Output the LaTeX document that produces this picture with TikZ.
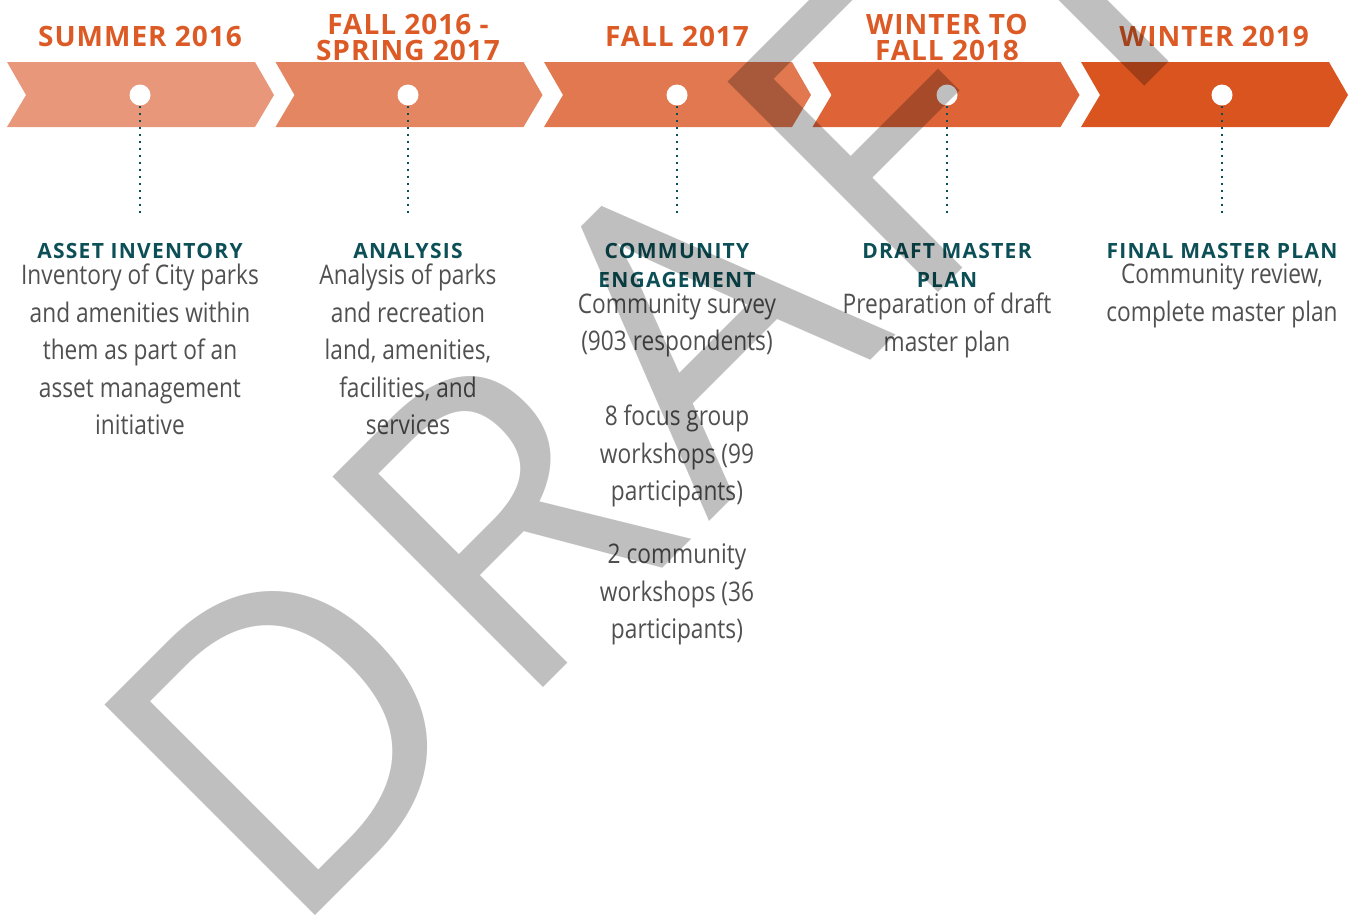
\documentclass[tikz,border=0pt]{standalone}
\usepackage{fontspec}
\setmainfont{Open Sans}
\newfontfamily\periodfont[LetterSpace=3.5]{Open Sans}
\newfontfamily\phasefont[LetterSpace=6]{Open Sans}
\newfontfamily\detailfont[FakeStretch=0.84]{Open Sans}
\newfontfamily\draftfont[LetterSpace=4.5]{Open Sans}
\usetikzlibrary{positioning}

\definecolor{chevA}{HTML}{E9977A}
\definecolor{chevB}{HTML}{E48662}
\definecolor{chevC}{HTML}{E2784F}
\definecolor{chevD}{HTML}{DE6437}
\definecolor{chevE}{HTML}{D9541F}
\definecolor{periodorange}{HTML}{DC5A25}
\definecolor{phaseteal}{HTML}{0C4F56}
\definecolor{detailgray}{HTML}{505050}

\tikzset{
  period/.style={font=\periodfont\bfseries\fontsize{28}{26.5}\selectfont, text=periodorange, align=center, inner sep=0pt, anchor=south},
  phase/.style={font=\phasefont\bfseries\fontsize{21}{29.5}\selectfont, text=phaseteal, align=center, inner sep=0pt, anchor=north},
  detail/.style={font=\detailfont\fontsize{27}{37.5}\selectfont, text=detailgray, align=center, inner sep=0pt},
  milestone/.style={circle, fill=white, minimum size=21pt, inner sep=0pt},
  dotline/.style={phaseteal, line width=2pt, dash pattern=on 2pt off 5pt},
  watermark/.style={font=\draftfont\fontsize{417}{417}\selectfont, text=black, text opacity=0.25, rotate=45, anchor=base west, inner sep=0pt}
}

\begin{document}
\begin{tikzpicture}[x=1pt,y=-1pt]
    \useasboundingbox (0,0) rectangle (1352,922);

    % chevron band
    \foreach \col [count=\i] in {chevA,chevB,chevC,chevD,chevE}{
        \pgfmathsetmacro\xl{7+268.5*(\i-1)}
        \fill[\col] (\xl,62) -- ++(248,0) -- ++(19,33) -- ++(-19,32) -- ++(-248,0) -- ++(19,-32) -- cycle;
    }

    % milestones and their dotted drops
    \foreach \x [count=\i] in {140,408,677,947,1222}{
        \node[milestone] (dot\i) at (\x,95) {};
        \coordinate (end\i) at (\x,217);
        \draw[dotline] (dot\i) -- (end\i);
    }

    % dates
    \node[period] (per1) at (140,47) {SUMMER 2016};
    \node[period] (per2) at (408,61) {FALL 2016 -\\SPRING 2017};
    \node[period] (per3) at (677,47) {FALL 2017};
    \node[period] (per4) at (947,61) {WINTER TO\\FALL 2018};
    \node[period] (per5) at (1214,47) {WINTER 2019};

    % phases
    \node[phase] (ph1) at (140,243) {ASSET INVENTORY};
    \node[phase] (ph2) at (408,243) {ANALYSIS};
    \node[phase] (ph3) at (677,243) {COMMUNITY\\ENGAGEMENT};
    \node[phase] (ph4) at (947,243) {DRAFT MASTER\\PLAN};
    \node[phase] (ph5) at (1222,243) {FINAL MASTER PLAN};

    \node[detail, below=5pt of ph1] (det1) {Inventory of City parks\\and amenities within\\them as part of an\\asset management\\initiative};
    \node[detail, below=5pt of ph2] (det2) {Analysis of parks\\and recreation\\land, amenities,\\facilities, and\\services};
    \node[detail, below=5pt of ph3] (det3) {Community survey\\(903 respondents)\\[37.5pt]8 focus group\\workshops (99\\participants)\\[25.5pt]2 community\\workshops (36\\participants)};
    \node[detail, below=5pt of ph4] (det4) {Preparation of draft\\master plan};
    \node[detail, below=5pt of ph5] (det5) {Community review,\\complete master plan};

    % watermark
    \begin{scope}
        \clip (0,0) rectangle (1352,922);
        \node[watermark] (draft) at (286,945) {DRAFT};
    \end{scope}
\end{tikzpicture}
\end{document}
